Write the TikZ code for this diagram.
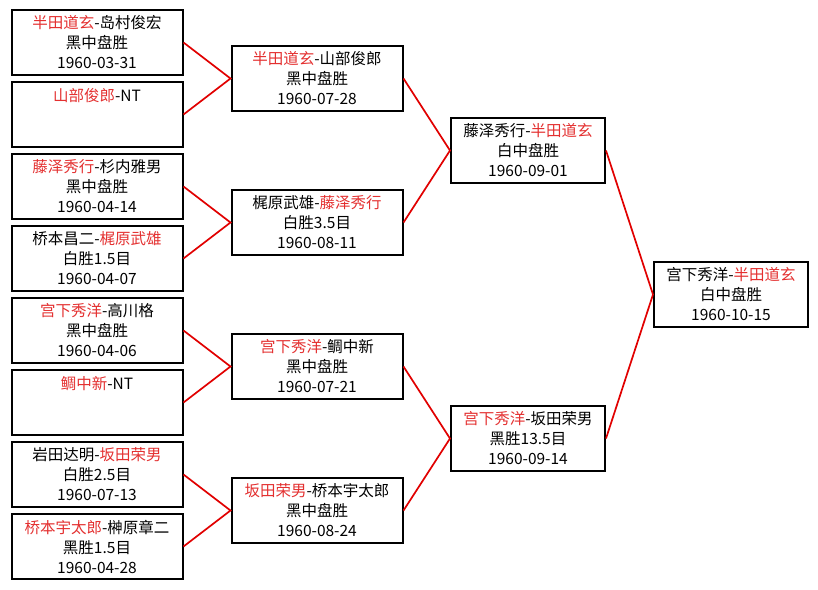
\documentclass[tikz,border=0pt]{standalone}
\usepackage{fontspec}
\newfontfamily\cjk{Noto Sans CJK SC}
\definecolor{txtred}{RGB}{228,48,48}
\definecolor{linered}{RGB}{225,0,0}
\newcommand{\rd}[1]{\textcolor{txtred}{#1}}
\tikzset{
  game/.style={draw=black, line width=2pt, fill=white, rectangle,
    minimum width=171pt, minimum height=65pt, inner sep=0pt, align=center,
    font=\cjk\fontsize{15.5}{20}\selectfont},
  gamen/.style={game, minimum width=154pt},
  link/.style={draw=linered, line width=1.7pt}
}
\begin{document}
\begin{tikzpicture}[x=1pt,y=-1pt]
\useasboundingbox[fill=white] (0,0) rectangle (818,589);
% round 1
\node[game] (a1) at (97,42.5) {\rd{半田道玄}-岛村俊宏\\黑中盘胜\\1960-03-31};
\node[game] (a2) at (97,114.5) {\rd{山部俊郎}-NT\\\mbox{}\\\mbox{}};
\node[game] (a3) at (97,186.5) {\rd{藤泽秀行}-杉内雅男\\黑中盘胜\\1960-04-14};
\node[game] (a4) at (97,258.5) {桥本昌二-\rd{梶原武雄}\\白胜1.5目\\1960-04-07};
\node[game] (a5) at (97,330.5) {\rd{宫下秀洋}-高川格\\黑中盘胜\\1960-04-06};
\node[game] (a6) at (97,402.5) {\rd{鲷中新}-NT\\\mbox{}\\\mbox{}};
\node[game] (a7) at (97,474.5) {岩田达明-\rd{坂田荣男}\\白胜2.5目\\1960-07-13};
\node[game] (a8) at (97,546.5) {\rd{桥本宇太郎}-榊原章二\\黑胜1.5目\\1960-04-28};
% round 2
\node[game] (b1) at (317,78.5) {\rd{半田道玄}-山部俊郎\\黑中盘胜\\1960-07-28};
\node[game] (b2) at (317,222.5) {梶原武雄-\rd{藤泽秀行}\\白胜3.5目\\1960-08-11};
\node[game] (b3) at (317,366.5) {\rd{宫下秀洋}-鲷中新\\黑中盘胜\\1960-07-21};
\node[game] (b4) at (317,510.5) {\rd{坂田荣男}-桥本宇太郎\\黑中盘胜\\1960-08-24};
% round 3
\node[gamen] (c1) at (528,150.5) {藤泽秀行-\rd{半田道玄}\\白中盘胜\\1960-09-01};
\node[gamen] (c2) at (528,438.5) {\rd{宫下秀洋}-坂田荣男\\黑胜13.5目\\1960-09-14};
% final
\node[gamen] (d1) at (731,294.5) {宫下秀洋-\rd{半田道玄}\\白中盘胜\\1960-10-15};
% connectors
\draw[link] (a1.east) -- (b1.west) -- (a2.east);
\draw[link] (a3.east) -- (b2.west) -- (a4.east);
\draw[link] (a5.east) -- (b3.west) -- (a6.east);
\draw[link] (a7.east) -- (b4.west) -- (a8.east);
\draw[link] (b1.east) -- (c1.west) -- (b2.east);
\draw[link] (b3.east) -- (c2.west) -- (b4.east);
\draw[link] (c1.east) -- (d1.west) -- (c2.east);
\end{tikzpicture}
\end{document}
